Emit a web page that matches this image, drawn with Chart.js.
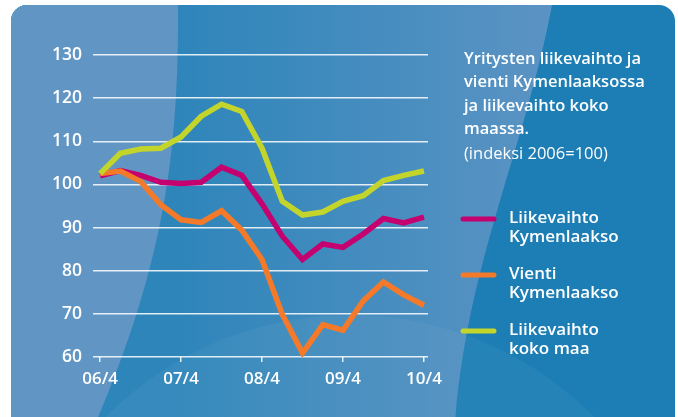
<!DOCTYPE html>
<html lang="fi">
<head>
    <meta charset="UTF-8">
    <title>Liikevaihto ja vienti</title>
    <script src="https://cdn.jsdelivr.net/npm/chart.js"></script>
    <style>
        body { margin: 0; background: #fff; }
        .wrap { width: 678px; height: 417px; position: relative; }
    </style>
</head>
<body>
    <div class="wrap"><canvas id="kaavio"></canvas></div>

    <script>
        // neljännekset 06/4 ... 10/4
        const neljannekset = ["06/4", "07/1", "07/2", "07/3", "07/4", "08/1", "08/2", "08/3", "08/4",
                              "09/1", "09/2", "09/3", "09/4", "10/1", "10/2", "10/3", "10/4"];
        const vuosiTikit = [0, 4, 8, 12, 16];
        const yTikit = [60, 70, 80, 90, 100, 110, 120, 130];

        const liikevaihtoKymenlaakso = [102, 103.2, 102.1, 100.5, 100.2, 100.5, 104, 102.1, 95.5,
                                        88, 82.6, 86.2, 85.4, 88.5, 92.1, 91.1, 92.4];
        const vientiKymenlaakso = [102.5, 103.1, 100.7, 95.3, 91.8, 91.2, 93.9, 89.4, 82.6,
                                   69.9, 60.9, 67.5, 66.2, 73, 77.4, 74.4, 72];
        const liikevaihtoKokoMaa = [102.5, 107.2, 108.2, 108.4, 111, 115.8, 118.6, 116.9, 108.4,
                                    96.1, 92.9, 93.6, 96.1, 97.4, 100.9, 102.1, 103.1];

        const sarjat = [
            { nimi: ["Liikevaihto", "Kymenlaakso"], arvot: liikevaihtoKymenlaakso, vari: "#c5006f", jarj: 2 },
            { nimi: ["Vienti", "Kymenlaakso"], arvot: vientiKymenlaakso, vari: "#f47a2a", jarj: 1 },
            { nimi: ["Liikevaihto", "koko maa"], arvot: liikevaihtoKokoMaa, vari: "#c3d52b", jarj: 0 }
        ];

        const otsikko = ["Yritysten liikevaihto ja", "vienti Kymenlaaksossa", "ja liikevaihto koko", "maassa."];
        const alaotsikko = "(indeksi 2006=100)";

        const fontti = "'Open Sans', 'DejaVu Sans', sans-serif";

        // tausta: pyöristetty sininen laatta kaarevine raitoineen
        const tausta = {
            id: "tausta",
            beforeDraw(chart) {
                const c = chart.ctx, W = chart.width, H = chart.height;
                c.save();
                c.fillStyle = "#fff";
                c.fillRect(0, 0, W, H);
                c.beginPath();
                c.roundRect(11, 5, 664, 440, 16);
                c.clip();
                c.fillStyle = "#1c7eb4";
                c.fillRect(0, 0, W, H);

                const g = c.createLinearGradient(170, 0, 540, 0);
                g.addColorStop(0, "#2d85ba");
                g.addColorStop(1, "#5a93c3");
                c.beginPath();
                c.moveTo(0, 0);
                c.lineTo(553, 0);
                c.bezierCurveTo(525, 150, 468, 260, 455, H + 5);
                c.lineTo(0, H + 5);
                c.closePath();
                c.fillStyle = g;
                c.fill();

                c.beginPath();
                c.moveTo(0, 0);
                c.lineTo(178, 0);
                c.bezierCurveTo(179, 150, 165, 260, 96, H + 5);
                c.lineTo(0, H + 5);
                c.closePath();
                c.fillStyle = "#6196c4";
                c.fill();

                c.beginPath();
                c.ellipse(350, 650, 340, 335, 0, 0, Math.PI * 2);
                c.fillStyle = "rgba(255,255,255,0.045)";
                c.fill();
                c.restore();
            }
        };

        // otsikko ja selite oikealle
        const selite = {
            id: "selite",
            afterDraw(chart) {
                const c = chart.ctx;
                c.save();
                c.fillStyle = "#fff";
                c.textBaseline = "middle";
                c.textAlign = "left";
                c.font = "600 16.5px " + fontti;
                otsikko.forEach((rivi, i) => c.fillText(rivi, 464, 59 + i * 23.4));
                c.font = "400 16.5px " + fontti;
                c.fillText(alaotsikko, 464, 154);

                const yt = [219, 275, 331];
                sarjat.forEach((s, i) => {
                    c.strokeStyle = s.vari;
                    c.lineWidth = 5;
                    c.lineCap = "round";
                    c.beginPath();
                    c.moveTo(463, yt[i]);
                    c.lineTo(494, yt[i]);
                    c.stroke();
                    c.font = "600 17px " + fontti;
                    c.fillText(s.nimi[0], 509, yt[i] - 1);
                    c.fillText(s.nimi[1], 509, yt[i] + 18.5);
                });
                c.restore();
            }
        };

        new Chart(document.getElementById("kaavio"), {
            type: "line",
            data: {
                datasets: sarjat.map(s => ({
                    label: s.nimi.join(" "),
                    data: s.arvot.map((v, i) => ({ x: i, y: v })),
                    borderColor: s.vari,
                    backgroundColor: s.vari,
                    borderWidth: 5.5,
                    pointRadius: 0,
                    tension: 0,
                    order: s.jarj
                }))
            },
            options: {
                responsive: true,
                maintainAspectRatio: false,
                animation: false,
                layout: { padding: { left: 0, right: 250, top: 55, bottom: 0 } },
                plugins: { legend: { display: false }, tooltip: { enabled: false } },
                scales: {
                    x: {
                        type: "linear",
                        min: -0.35,
                        max: 16.2,
                        afterBuildTicks: ax => { ax.ticks = vuosiTikit.map(v => ({ value: v })); },
                        afterFit: ax => { ax.height = 60; },
                        border: { display: false },
                        grid: { drawOnChartArea: false, drawTicks: true, tickLength: 5, color: "rgba(255,255,255,0.85)", lineWidth: 1.5 },
                        ticks: {
                            color: "#fff",
                            padding: 7,
                            maxRotation: 0,
                            font: { family: fontti, size: 17, weight: "600" },
                            callback: v => neljannekset[v]
                        }
                    },
                    y: {
                        min: 60,
                        max: 130,
                        afterBuildTicks: ax => { ax.ticks = yTikit.map(v => ({ value: v })); },
                        afterFit: ax => { ax.width = 93; },
                        border: { display: false },
                        grid: { drawTicks: false, color: "rgba(255,255,255,0.85)", lineWidth: 1.5 },
                        ticks: {
                            color: "#fff",
                            padding: 11,
                            font: { family: fontti, size: 17.5, weight: "600" }
                        }
                    }
                }
            },
            plugins: [tausta, selite]
        });
    </script>
</body>
</html>
